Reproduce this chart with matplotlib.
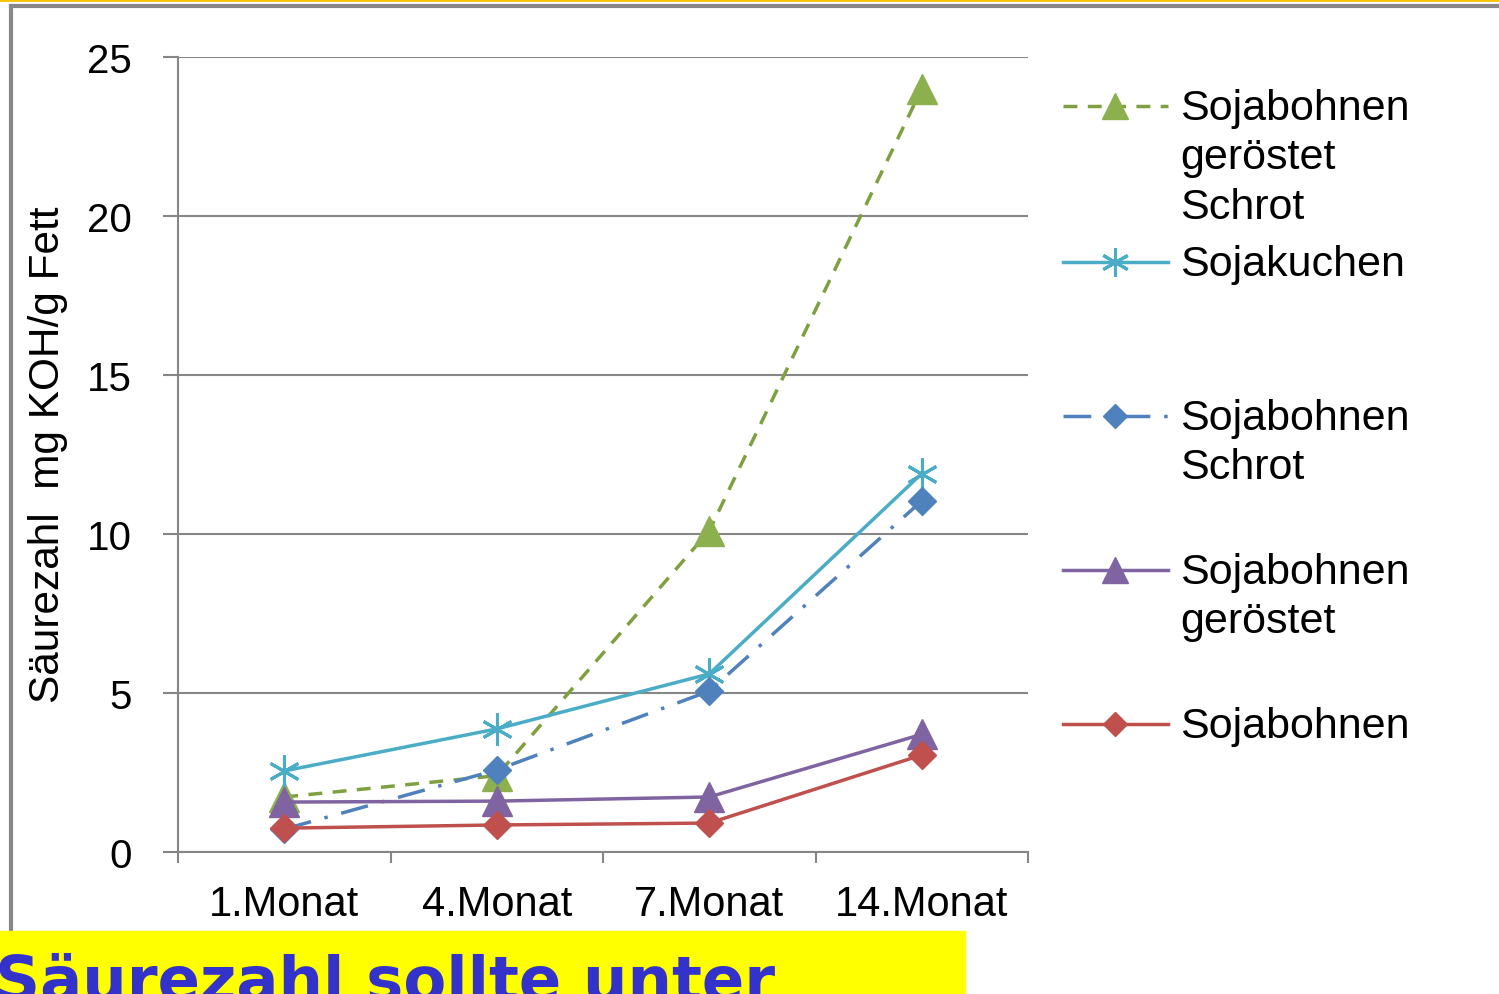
import matplotlib
matplotlib.use("Agg")
import matplotlib.pyplot as plt
from matplotlib.lines import Line2D
from matplotlib.patches import Rectangle
import numpy as np

categories = ["1.Monat", "4.Monat", "7.Monat", "14.Monat"]
series_names = ["Sojabohnen\ngeröstet\nSchrot", "Sojakuchen", "Sojabohnen\nSchrot",
                "Sojabohnen\ngeröstet", "Sojabohnen"]
geroestet_schrot = [1.73, 2.4, 10.1, 24.0]
sojakuchen = [2.55, 3.87, 5.6, 11.9]
schrot = [0.72, 2.58, 5.06, 11.04]
geroestet = [1.57, 1.6, 1.73, 3.7]
sojabohnen = [0.75, 0.85, 0.91, 3.05]
yticks = [0, 5, 10, 15, 20, 25]
ylabel = "Säurezahl  mg KOH/g Fett"
banner = "Säurezahl sollte unter"

W, H = 1499, 995
plt.rcParams['font.family'] = ['Liberation Sans', 'DejaVu Sans']
fig = plt.figure(figsize=(W / 100, H / 100), dpi=100)

def fx(px):
    return px / W

def fy(py):
    return 1 - py / H

ax = fig.add_axes([fx(178), fy(853), fx(1028) - fx(178), fy(58) - fy(853)])

styles = [
    dict(color="#7FA040", mfc="#8DB04E", mec="#8DB04E", ls=(0, (4, 3)), marker="^", ms=21),
    dict(color="#4BACC6", mfc="none", mec="#4BACC6", ls="-", marker=(6, 2, 0), ms=23, mew=2.2),
    dict(color="#4F81BD", mfc="#4F81BD", mec="#4F81BD", ls=(0, (8, 4, 1, 4)), marker="D", ms=14),
    dict(color="#8064A2", mfc="#8064A2", mec="#8064A2", ls="-", marker="^", ms=21),
    dict(color="#C0504D", mfc="#C0504D", mec="#C0504D", ls="-", marker="D", ms=14),
]
data = [geroestet_schrot, sojakuchen, schrot, geroestet, sojabohnen]
x = np.arange(len(categories))
for i in range(5):
    st = styles[i]
    ax.plot(x, data[i], color=st["color"], ls=st["ls"], lw=2.5, marker=st["marker"],
            ms=st["ms"], mfc=st["mfc"], mec=st["mec"], mew=st.get("mew", 1),
            clip_on=False, zorder=3 + i * 0.1)

ax.set_xlim(-0.5, 3.5)
ax.set_ylim(0, 25)
ax.set_yticks(yticks)
ax.set_yticklabels([str(t) for t in yticks], fontsize=29)
ax.set_xticks(np.arange(-0.5, 4.0, 1.0))
ax.set_xticklabels([])
ax.set_xticks(x, minor=True)
ax.set_xticklabels(categories, minor=True, fontsize=30)
ax.tick_params(axis="x", which="minor", length=0, pad=23)
ax.tick_params(axis="x", which="major", length=8, width=1.5, color="#868686")
ax.tick_params(axis="y", length=11, width=1.5, color="#868686", pad=22)
for s in ["top", "right"]:
    ax.spines[s].set_visible(False)
for s in ["left", "bottom"]:
    ax.spines[s].set_color("#868686")
    ax.spines[s].set_linewidth(1.5)
ax.grid(axis="y", color="#868686", lw=1.5)
ax.set_axisbelow(True)

fig.text(fx(48), fy(455), ylabel, rotation=90, fontsize=30.5, ha="center", va="center")

# legend (manual, Excel-like irregular spacing)
leg_y = [107, 263, 417, 571, 725]
for i in range(5):
    st = styles[i]
    y = fy(leg_y[i])
    fig.add_artist(Line2D([fx(1063), fx(1168)], [y, y], color=st["color"], ls=st["ls"], lw=2.5))
    fig.add_artist(Line2D([fx(1115)], [y], marker=st["marker"], ms=st["ms"] * 0.88,
                          mfc=st["mfc"], mec=st["mec"], mew=st.get("mew", 1), ls="none"))
    fig.text(fx(1180), fy(leg_y[i] - 18), series_names[i], fontsize=31, ha="left",
             va="top", linespacing=1.3)

# frame lines
fig.add_artist(Line2D([0, 1], [fy(1), fy(1)], color="#F5C400", lw=2))
fig.add_artist(Line2D([fx(11), 1], [fy(7), fy(7)], color="#888888", lw=3))
fig.add_artist(Line2D([fx(11), fx(11)], [fy(7), fy(932)], color="#888888", lw=3))

# banner
fig.add_artist(Rectangle((0, 0), fx(965), fy(932), color="#FFFF00", zorder=5))
fig.text(fx(-5), fy(1001), banner, fontsize=45, fontweight="bold", color="#3333CC",
         ha="left", va="baseline", family="DejaVu Sans", zorder=6)

fig.savefig("out.png", dpi=100)
